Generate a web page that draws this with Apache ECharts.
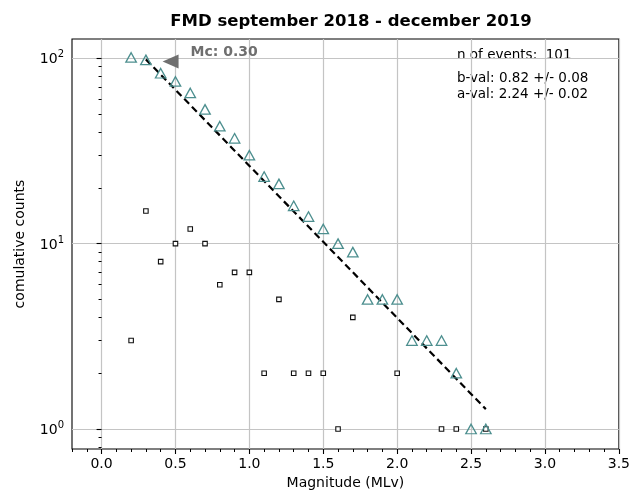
<!DOCTYPE html>
<html>
<head>
<meta charset="utf-8">
<script src="https://cdn.jsdelivr.net/npm/echarts@6/dist/echarts.min.js"></script>
<style>html,body{margin:0;padding:0;background:#fff}#c{width:633px;height:495px}</style>
</head>
<body>
<div id="c"></div>
<script>
// ---- data ----
const magnitudes = [0.2,0.3,0.4,0.5,0.6,0.7,0.8,0.9,1.0,1.1,1.2,1.3,1.4,1.5,1.6,1.7,1.8,1.9,2.0,2.1,2.2,2.3,2.4,2.5,2.6];
const cumulativeCounts = [101,98,83,75,65,53,43,37,30,23,21,16,14,12,10,9,5,5,5,3,3,3,2,1,1];
const binMagnitudes = [0.2,0.3,0.4,0.5,0.6,0.7,0.8,0.9,1.0,1.1,1.2,1.3,1.4,1.5,1.6,1.7,2.0,2.3,2.4,2.6];
const binCounts = [3,15,8,10,12,10,6,7,7,2,5,2,2,2,1,4,2,1,1,1];
const fitMagnitudes = [0.3, 2.6];
const fitCounts = [98.6, 1.28];
const mcMarker = [0.467, 96];
const xTickValues = [0.0,0.5,1.0,1.5,2.0,2.5,3.0,3.5];
const yTickValues = [1,10,100];
const yMinorTickValues = [0.8,0.9,2,3,4,5,6,7,8,9,20,30,40,50,60,70,80,90];
const titleText = 'FMD september 2018 - december 2019';
const infoLines = ['n of events:  101','b-val: 0.82 +/- 0.08','a-val: 2.24 +/- 0.02'];
const mcText = 'Mc: 0.30';

const FONT = 'DejaVu Sans';
const chart = echarts.init(document.getElementById('c'), null, {renderer:'canvas'});
const zip = (a,b) => a.map((v,i)=>[v,b[i]]);

chart.setOption({
  animation:false,
  backgroundColor:'#ffffff',
  textStyle:{fontFamily:FONT},
  title:{text:titleText,left:346,top:8,textAlign:'center',
    textStyle:{fontFamily:FONT,fontWeight:'bold',fontSize:16.5,color:'#000'}},
  grid:{left:72,right:13,top:39,bottom:46,show:true,borderColor:'#000',borderWidth:1.1,backgroundColor:'transparent'},
  xAxis:[{
    type:'value',min:-0.2,max:3.5,interval:0.1,
    name:'Magnitude (MLv)',nameLocation:'middle',nameGap:27,
    nameTextStyle:{fontFamily:FONT,fontSize:14,color:'#000'},
    axisLine:{show:false},
    axisTick:{show:true,length:5,lineStyle:{color:'#000',width:1.1},customValues:xTickValues},
    axisLabel:{show:true,customValues:xTickValues,margin:8,fontFamily:FONT,fontSize:14,color:'#000',
      formatter:v=>v.toFixed(1)},
    splitLine:{show:true,lineStyle:{color:'#c4c4c4',width:1.2}}
  },{
    type:'value',min:-0.2,max:3.5,interval:0.1,position:'bottom',
    axisLine:{show:false},axisLabel:{show:false},splitLine:{show:false},
    axisTick:{show:true,length:3,lineStyle:{color:'#000',width:1}}
  }],
  yAxis:[{
    type:'log',logBase:10,min:0.78,max:127,
    name:'comulative counts',nameLocation:'middle',nameGap:45,nameRotate:90,
    nameTextStyle:{fontFamily:FONT,fontSize:14,color:'#000'},
    axisLine:{show:false},
    axisTick:{show:true,length:5,lineStyle:{color:'#000',width:1.1},customValues:yTickValues},
    axisLabel:{show:true,customValues:yTickValues,margin:8,
      formatter:v=>'{b|10}{s|'+Math.round(Math.log10(v))+'}',
      rich:{b:{fontFamily:FONT,fontSize:14,color:'#000',verticalAlign:'bottom'},
            s:{fontFamily:FONT,fontSize:10,color:'#000',verticalAlign:'bottom',padding:[0,0,7,0]}}},
    splitLine:{show:true,lineStyle:{color:'#c4c4c4',width:1.2}}
  },{
    type:'log',logBase:10,min:0.78,max:127,position:'left',
    axisLine:{show:false},axisLabel:{show:false},splitLine:{show:false},
    axisTick:{show:true,length:3,lineStyle:{color:'#000',width:1},customValues:yMinorTickValues}
  }],
  graphic:infoLines.map((t,i)=>({type:'text',left:457,top:[48,71,87][i],
    style:{text:t,font:'13.5px "DejaVu Sans"',fill:'#000'}})),
  series:[
    {type:'line',xAxisIndex:0,yAxisIndex:0,data:zip(fitMagnitudes,fitCounts),symbol:'none',
     lineStyle:{color:'#000',width:2.2,type:[7,4]},z:2},
    {type:'scatter',xAxisIndex:0,yAxisIndex:0,data:zip(binMagnitudes,binCounts),symbol:'rect',symbolSize:4.5,
     itemStyle:{color:'#fff',borderColor:'#111',borderWidth:1.1,opacity:1},z:3},
    {type:'scatter',xAxisIndex:0,yAxisIndex:0,data:zip(magnitudes,cumulativeCounts),symbol:'triangle',symbolSize:[10.5,9.5],
     itemStyle:{color:'rgba(0,0,0,0)',borderColor:'#4d8f8f',borderWidth:1.3,opacity:1},z:4},
    {type:'scatter',xAxisIndex:0,yAxisIndex:0,data:[mcMarker],symbol:'triangle',symbolRotate:90,symbolSize:[14,16],
     itemStyle:{color:'#6f6f6f',opacity:1},z:5,
     label:{show:true,position:'right',distance:12,offset:[0,-9],formatter:mcText,
       fontFamily:FONT,fontWeight:'bold',fontSize:14,color:'#6f6f6f'}}
  ]
});
</script>
</body>
</html>
